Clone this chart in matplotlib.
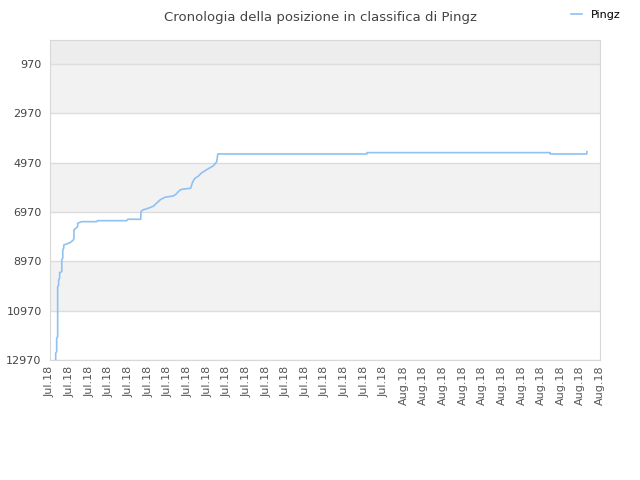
import matplotlib.pyplot as plt
import numpy as np

# position over time (x = day index from first tick, y = rank)
days = [0.29, 0.29, 0.34, 0.34, 0.39, 0.39, 0.44, 0.44, 0.49, 0.49,
        0.60, 0.60, 0.65, 0.65, 0.70, 0.70, 1.02, 1.19, 1.22, 1.22,
        1.31, 1.41, 1.41, 1.61, 2.38, 2.41, 3.91, 3.96, 4.62, 4.63,
        4.72, 5.00, 5.26, 5.60, 5.85, 6.28, 6.43, 6.58, 6.71, 7.16,
        7.27, 7.38, 7.58, 7.69, 8.01, 8.31, 8.49, 8.54, 16.13, 16.14,
        25.46, 25.46, 27.33, 27.33]
ranks = [12970, 12686, 12633, 12078, 12025, 9998, 9929, 9727, 9646, 9431,
         9390, 8916, 8835, 8511, 8430, 8308, 8215, 8105, 8024, 7700,
         7631, 7566, 7428, 7363, 7363, 7323, 7323, 7266, 7266, 6958,
         6889, 6820, 6739, 6483, 6374, 6321, 6240, 6106, 6050, 6009,
         5742, 5604, 5500, 5401, 5239, 5105, 4931, 4619, 4619, 4565,
         4565, 4619, 4619, 4525]

tick_labels = ["Jul.18"] * 18 + ["Aug.18"] * 11
y_ticks = [970, 2970, 4970, 6970, 8970, 10970, 12970]

fig = plt.figure(figsize=(6.4, 4.8), dpi=100)
ax = fig.add_axes([50 / 640, 120 / 480, 550 / 640, 320 / 480])

# alternating bands
ax.axhspan(0, 970, color="#ededed", zorder=0, lw=0)
for i in range(len(y_ticks) - 1):
    if i % 2 == 0:
        ax.axhspan(y_ticks[i], y_ticks[i + 1], color="#f2f2f2", zorder=0, lw=0)
for yv in y_ticks:
    ax.axhline(yv, color="#dddddd", lw=1, zorder=1)

ax.plot(days, ranks, color="#8fc1f2", lw=1.2, zorder=3, label="Pingz")

ax.set_xlim(0, len(tick_labels) - 1)
ax.set_ylim(12970, 0)
ax.set_xticks(np.arange(len(tick_labels)))
ax.set_xticklabels(tick_labels, rotation=90, fontsize=8, color="#555555")
ax.set_yticks(y_ticks)
ax.set_yticklabels([str(v) for v in y_ticks], fontsize=8, color="#444444")
ax.tick_params(axis="both", length=0)
ax.tick_params(axis="x", pad=4)
ax.tick_params(axis="y", pad=6)
for s in ax.spines.values():
    s.set_color("#d8d8d8")

fig.text(0.5, 0.978, "Cronologia della posizione in classifica di Pingz",
         ha="center", va="top", fontsize=9.5, color="#444444")
fig.legend(loc="upper right", bbox_to_anchor=(0.985, 1.0), frameon=False,
           fontsize=8, handlelength=1.0, handletextpad=0.8)

fig.savefig("out.png", dpi=100)
